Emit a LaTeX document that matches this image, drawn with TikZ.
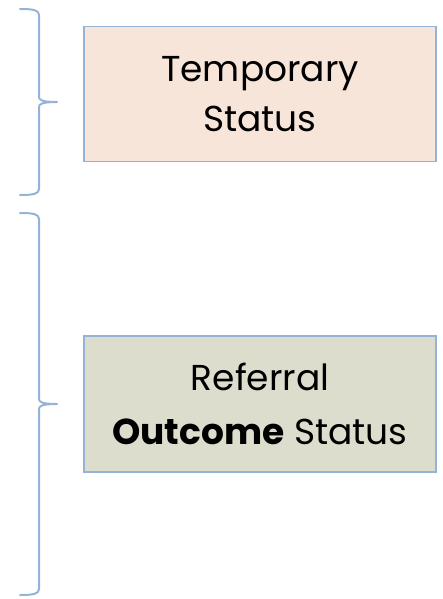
\documentclass[tikz,border=0pt]{standalone}
\usepackage{fontspec}
\setmainfont{Poppins}
\definecolor{edgeblue}{RGB}{149,179,215}
\definecolor{peach}{RGB}{247,229,218}
\definecolor{sage}{RGB}{220,221,205}
\tikzset{
  statusbox/.style={draw=edgeblue, line width=1.8pt, minimum width=352pt, minimum height=135pt, align=center, text=black, inner sep=0pt},
  bracestroke/.style={draw=edgeblue, line width=2pt, line join=round, line cap=round}
}
\begin{document}
\begin{tikzpicture}[x=1pt,y=-1pt]
\useasboundingbox (0,0) rectangle (443,599);
\node[statusbox, fill=peach, font=\fontsize{36}{50}\selectfont] (temp) at (260,94) {Temporary\\Status};
\node[statusbox, fill=sage, minimum height=136pt, font=\fontsize{36}{54}\selectfont] (outcome) at (260,404) {Referral\\\textbf{Outcome} Status};
% upper brace
\draw[bracestroke] (20,9) .. controls (33,9) and (39,10) .. (39,15) -- (39,97)
  .. controls (39,100) and (42,102) .. (57,102)
  .. controls (42,102) and (39,104) .. (39,107) -- (39,189)
  .. controls (39,194) and (33,195) .. (20,195);
% lower brace
\draw[bracestroke] (20,213) .. controls (33,213) and (39,214) .. (39,219) -- (39,399)
  .. controls (39,402) and (42,404) .. (57,404)
  .. controls (42,404) and (39,406) .. (39,409) -- (39,589)
  .. controls (39,594) and (33,595) .. (20,595);
\end{tikzpicture}
\end{document}
